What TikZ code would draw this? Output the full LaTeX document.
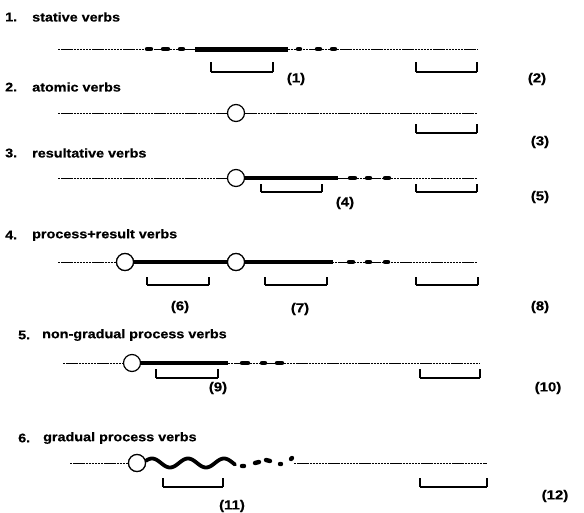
\documentclass[tikz,border=0pt]{standalone}
\usepackage{fontspec}
\setmainfont[FakeStretch=1.15, FakeBold=0.6]{Liberation Sans}
\begin{document}
\begin{tikzpicture}[x=1pt,y=-1pt,
  base/.style={line width=0.6pt, dash pattern=on 2.4pt off 0.7pt},
  heavy/.style={line width=4.4pt},
  blob/.style={line width=4.4pt, line cap=round},
  pt/.style={circle, draw, line width=1.2pt, fill=white, minimum size=17pt, inner sep=0pt},
  brk/.style={line width=1.1pt},
  tick/.style={line width=1.8pt},
  tit/.style={anchor=west, inner sep=0pt, font=\fontsize{12.5}{14}\selectfont\bfseries},
  lab/.style={inner sep=0pt, font=\fontsize{13}{15}\selectfont\bfseries}]
\useasboundingbox (0,0) rectangle (584,512);

% ---------- Row 1
\node[tit] (n1) at (5,17) {1.};
\node[tit] (t1) at (32,17) {stative verbs};
\coordinate (a1) at (58,49); \coordinate (b1) at (477,49);
\draw[base] (a1) -- (b1);
\draw[blob] (147,49) -- (151,49) (163,49) -- (168,49) (180,49) -- (183,49)
            (298,49) -- (300,49) (317,49) -- (320,49) (332,49) -- (335,49);
\coordinate (s1) at (195,49); \coordinate (e1) at (288,49);
\draw[heavy, line width=5pt] (s1) -- (e1);
\draw[brk] (211,72) -- (273,72);
\draw[tick] (211,62) -- (211,72) (273,62) -- (273,72);
\node[lab] (l1) at (296,79) {(1)};
\draw[brk] (416,72) -- (477,72);
\draw[tick] (416,62) -- (416,72) (477,62) -- (477,72);
\node[lab] (l2) at (537,79) {(2)};

% ---------- Row 2
\node[tit] (n2) at (5,87) {2.};
\node[tit] (t2) at (32,87) {atomic verbs};
\coordinate (a2) at (58,113); \coordinate (b2) at (477,113);
\node[pt] (c2) at (236,113) {};
\draw[base] (a2) -- (c2) -- (b2);
\draw[brk] (416,133) -- (477,133);
\draw[tick] (416,124) -- (416,133) (477,124) -- (477,133);
\node[lab] (l3) at (540,142) {(3)};

% ---------- Row 3
\node[tit] (n3) at (5,153) {3.};
\node[tit] (t3) at (32,153) {resultative verbs};
\coordinate (a3) at (58,178); \coordinate (b3) at (477,178);
\node[pt] (c3) at (236,178) {};
\draw[base] (a3) -- (c3) -- (b3);
\coordinate (e3) at (338,178);
\draw[heavy] (c3) -- (e3);
\draw[blob] (350,178) -- (355,178) (367,178) -- (370,178) (385,178) -- (389,178);
\draw[brk] (261,192) -- (322,192);
\draw[tick] (261,184) -- (261,192) (322,184) -- (322,192);
\node[lab] (l4) at (345,203) {(4)};
\draw[brk] (416,192) -- (477,192);
\draw[tick] (416,184) -- (416,192) (477,184) -- (477,192);
\node[lab] (l5) at (540,197) {(5)};

% ---------- Row 4
\node[tit] (n4) at (5,235) {4.};
\node[tit] (t4) at (32,235) {process+result verbs};
\coordinate (a4) at (58,262); \coordinate (b4) at (477,262);
\node[pt] (c4a) at (125,262) {};
\node[pt] (c4b) at (236,262) {};
\draw[base] (a4) -- (c4a);
\draw[base] (c4b) -- (b4);
\draw[heavy] (c4a) -- (c4b);
\coordinate (e4) at (333,262);
\draw[heavy] (c4b) -- (e4);
\draw[blob] (349,262) -- (353,262) (367,262) -- (370,262) (385,262) -- (388,262);
\node[pt] at (125,262) {};
\node[pt] at (236,262) {};
\draw[brk] (147,285) -- (209,285);
\draw[tick] (147,277) -- (147,285) (209,277) -- (209,285);
\draw[brk] (265,285) -- (327,285);
\draw[tick] (265,277) -- (265,285) (327,277) -- (327,285);
\draw[brk] (416,285) -- (478,285);
\draw[tick] (416,277) -- (416,285) (478,277) -- (478,285);
\node[lab] (l6) at (180,307) {(6)};
\node[lab] (l7) at (300,309) {(7)};
\node[lab] (l8) at (540,307) {(8)};

% ---------- Row 5
\node[tit] (n5) at (18,335) {5.};
\node[tit] (t5) at (42,335) {non-gradual process verbs};
\coordinate (a5) at (63,363); \coordinate (b5) at (480,363);
\node[pt] (c5) at (132,363) {};
\draw[base] (a5) -- (c5) -- (b5);
\coordinate (e5) at (228,363);
\draw[heavy] (c5) -- (e5);
\draw[blob] (242,363) -- (248,363) (262,363) -- (265,363) (277,363) -- (282,363);
\draw[brk] (156,378) -- (218,378);
\draw[tick] (156,369) -- (156,378) (218,369) -- (218,378);
\node[lab] (l9) at (218,388) {(9)};
\draw[brk] (420,378) -- (480,378);
\draw[tick] (420,369) -- (420,378) (480,369) -- (480,378);
\node[lab] (l10) at (548,388) {(10)};

% ---------- Row 6
\node[tit] (n6) at (18,438) {6.};
\node[tit] (t6) at (43,438) {gradual process verbs};
\coordinate (a6) at (70,463); \coordinate (m6) at (294,463); \coordinate (b6) at (487,463);
\node[pt] (c6) at (137,463) {};
\draw[base] (a6) -- (c6);
\draw[base] (m6) -- (b6);
\draw[line width=3.8pt, line cap=round] plot[domain=146:235, samples=80] (\x, {463 - 4.5*cos((\x-152)*10)});
\draw[blob] (242,466) -- (244,466) (255,463) -- (259,462) (266,460) -- (270,461) (280,464) -- (281,464) (291,459) -- (292,458);
\node[pt] at (137,463) {};
\draw[brk] (163,487) -- (223,487);
\draw[tick] (163,478) -- (163,487) (223,478) -- (223,487);
\node[lab] (l11) at (232,506) {(11)};
\draw[brk] (420,487) -- (487,487);
\draw[tick] (420,478) -- (420,487) (487,478) -- (487,487);
\node[lab] (l12) at (555,496) {(12)};
\end{tikzpicture}
\end{document}
